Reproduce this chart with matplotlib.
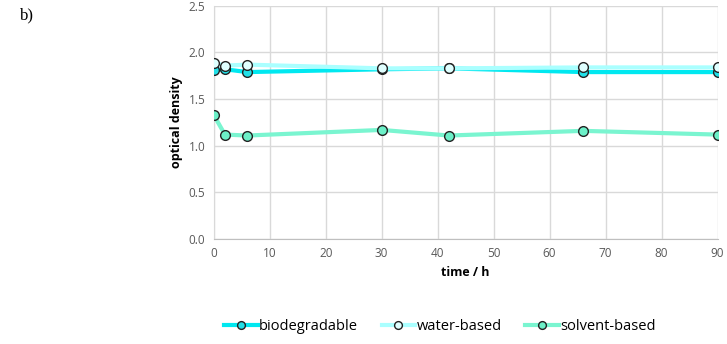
import matplotlib.pyplot as plt

time = [0, 2, 6, 30, 42, 66, 90]
biodegradable = [1.81, 1.82, 1.79, 1.82, 1.83, 1.79, 1.79]
water_based = [1.89, 1.86, 1.87, 1.83, 1.83, 1.84, 1.84]
solvent_based = [1.33, 1.12, 1.11, 1.17, 1.11, 1.16, 1.12]

plt.rcParams['font.family'] = ['Open Sans', 'DejaVu Sans']

fig = plt.figure(figsize=(7.27, 3.44), dpi=100)
ax = fig.add_axes([0.294, 0.305, 0.693, 0.678])

ax.plot(time, biodegradable, color='#00e8f0', lw=3, marker='o', ms=7,
        mfc='#22e0e8', mec='#222222', mew=1, label='biodegradable', zorder=3)
ax.plot(time, water_based, color='#aaffff', lw=3, marker='o', ms=7,
        mfc='#e0ffff', mec='#222222', mew=1, label='water-based', zorder=4)
ax.plot(time, solvent_based, color='#7af5d0', lw=3, marker='o', ms=7,
        mfc='#6cf0c8', mec='#222222', mew=1, label='solvent-based', zorder=3)

ax.set_xlim(0, 90)
ax.set_ylim(0, 2.5)
ax.set_xticks(range(0, 91, 10))
ax.set_yticks([0, 0.5, 1.0, 1.5, 2.0, 2.5])
ax.set_yticklabels(['0.0', '0.5', '1.0', '1.5', '2.0', '2.5'])
ax.grid(True, color='#d9d9d9', lw=1)
ax.set_axisbelow(True)
ax.tick_params(length=0, labelsize=8.5, labelcolor='#595959', pad=6)
for s in ['top', 'right']:
    ax.spines[s].set_visible(False)
ax.spines['left'].set_color('#d9d9d9')
ax.spines['bottom'].set_color('#bfbfbf')
ax.set_xlabel('time / h', fontsize=9, fontweight='bold', labelpad=4)
ax.set_ylabel('optical density', fontsize=9, fontweight='bold', labelpad=4)
for lab in ax.get_xticklabels() + ax.get_yticklabels():
    lab.set_clip_on(False)

fig.legend(loc='center', bbox_to_anchor=(0.605, 0.05), ncol=3, frameon=False,
           fontsize=10.5, handlelength=2.3, handletextpad=0.1,
           columnspacing=1.6, markerscale=0.8)

fig.text(0.027, 0.955, 'b)', fontsize=12, family='Liberation Serif', va='center')

fig.savefig('out.png', dpi=100)
